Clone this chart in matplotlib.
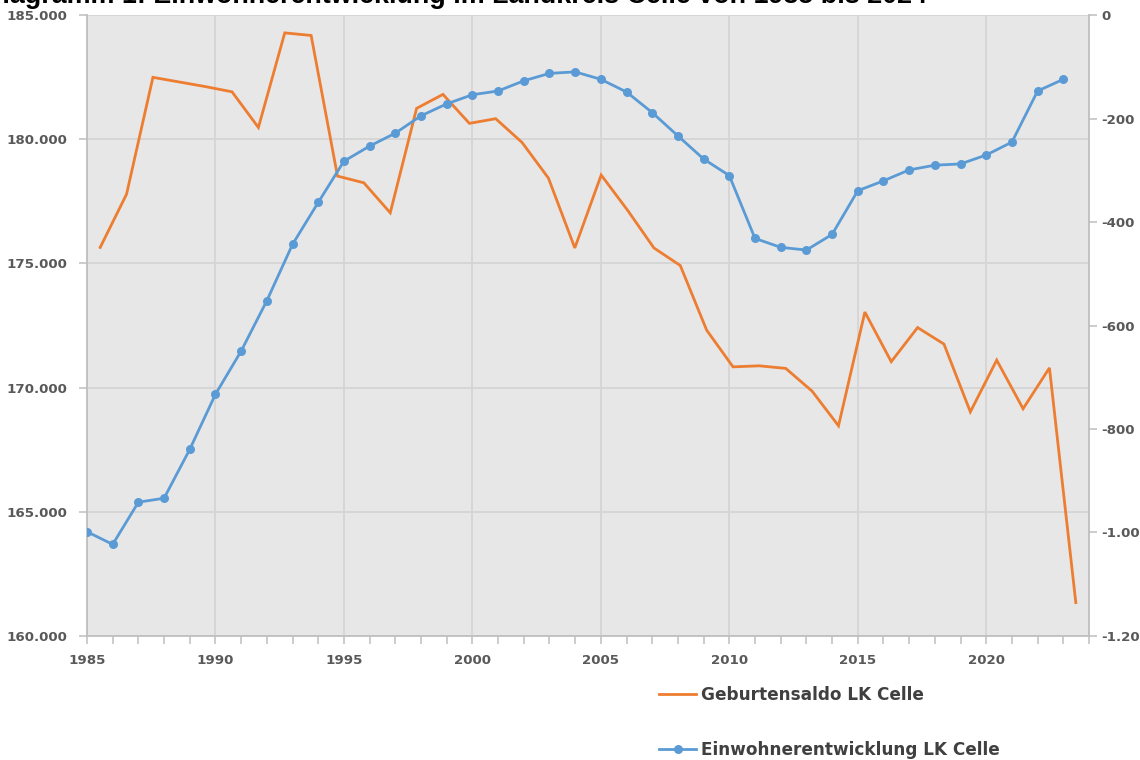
import matplotlib
matplotlib.use("Agg")
import matplotlib.pyplot as plt
from matplotlib.ticker import FuncFormatter, MultipleLocator, FixedLocator
from matplotlib.lines import Line2D

# ---- data ----
years = list(range(1985, 2024))
einwohner = [164190, 163680, 165380, 165540, 167510, 169730, 171470, 173500,
             175770, 177460, 179120, 179730, 180250, 180950, 181430, 181800,
             181950, 182360, 182660, 182720, 182420, 181910, 181080, 180140,
             179210, 178540, 176010, 175650, 175540, 176170, 177930, 178330,
             178770, 178960, 179010, 179370, 179890, 181950, 182420]

saldo_kategorien = [str(y) for y in range(1986, 2024)]
geburtensaldo = [-449, -346, -120, -129, -138, -148, -217, -34, -39, -311,
                 -324, -382, -180, -153, -209, -200, -246, -315, -450, -309,
                 -377, -450, -484, -609, -680, -678, -683, -727, -794, -574,
                 -670, -604, -636, -767, -667, -761, -682, -1136]

left_ticks = [160000, 165000, 170000, 175000, 180000, 185000]
right_ticks = [0, -200, -400, -600, -800, -1000, -1200]
x_major = [1985, 1990, 1995, 2000, 2005, 2010, 2015, 2020]

title = "Diagramm 1: Einwohnerentwicklung im Landkreis Celle von 1985 bis 2024"
label_saldo = "Geburtensaldo LK Celle"
label_einw = "Einwohnerentwicklung LK Celle"

# ---- style ----
ORANGE = "#ED7D31"
BLUE = "#5B9BD5"
BG = "#E7E7E7"
GRID = "#D5D5D5"
SPINE = "#BFBFBF"
TICKTXT = "#595959"

def de_fmt(v, pos=None):
    return f"{int(round(v)):,}".replace(",", ".")

fig = plt.figure(figsize=(11.4, 7.6), dpi=100)
W, H = 1140, 760
l, r, t, b = 87, 1089, 15.3, 635.7
rect = [l / W, 1 - b / H, (r - l) / W, (b - t) / H]

ax = fig.add_axes(rect)
ax.set_facecolor(BG)
ax.set_xlim(1985, 2024)
ax.set_ylim(160000, 185000)
ax.xaxis.set_major_locator(FixedLocator(x_major))
ax.xaxis.set_minor_locator(MultipleLocator(1))
ax.yaxis.set_major_locator(FixedLocator(left_ticks))
ax.yaxis.set_major_formatter(FuncFormatter(de_fmt))
ax.grid(True, which="major", color=GRID, linewidth=1.3)
ax.set_axisbelow(True)
for s in ["top", "right"]:
    ax.spines[s].set_visible(False)
for s in ["left", "bottom"]:
    ax.spines[s].set_color(SPINE)
    ax.spines[s].set_linewidth(1.3)
ax.tick_params(axis="both", which="both", direction="out", color=SPINE,
               width=1.1, length=6, labelcolor=TICKTXT)
ax.tick_params(axis="y", pad=8)
ax.tick_params(axis="x", which="major", pad=7)
for lab in ax.get_xticklabels() + ax.get_yticklabels():
    lab.set_fontfamily("DejaVu Sans")
    lab.set_fontweight("bold")
    lab.set_fontsize(9.6)

# right axis
ax_r = ax.twinx()
ax_r.set_ylim(-1200, 0)
ax_r.yaxis.set_major_locator(FixedLocator(right_ticks))
ax_r.yaxis.set_major_formatter(FuncFormatter(de_fmt))
for s in ["top", "left", "bottom"]:
    ax_r.spines[s].set_visible(False)
ax_r.spines["right"].set_color(SPINE)
ax_r.spines["right"].set_linewidth(1.3)
ax_r.tick_params(axis="y", direction="out", color=SPINE, width=1.1, length=6,
                 labelcolor=TICKTXT, pad=3)
for lab in ax_r.get_yticklabels():
    lab.set_fontfamily("DejaVu Sans")
    lab.set_fontweight("bold")
    lab.set_fontsize(9.6)

# orange series on category axis (hidden), right y scale
ax_o = ax_r.twiny()
ax_o.set_xlim(-0.5, len(saldo_kategorien) - 0.5)
ax_o.set_xticks([])
for s in ax_o.spines.values():
    s.set_visible(False)
ax_o.tick_params(axis="x", which="both", top=False, labeltop=False)
line_o, = ax_o.plot(range(len(saldo_kategorien)), geburtensaldo, color=ORANGE,
                    linewidth=2.0, solid_joinstyle="miter")

# blue series on top, left y scale
ax_b = ax.twiny()
ax_b.set_xlim(1985, 2024)
ax_b.set_xticks([])
for s in ax_b.spines.values():
    s.set_visible(False)
ax_b.tick_params(axis="x", which="both", top=False, labeltop=False)
line_b, = ax_b.plot(years, einwohner, color=BLUE, linewidth=2.0,
                    marker="o", markersize=6.5, markeredgewidth=0)

# title (mostly cut off at the top edge, as in the reference)
fig.text(-17 / W, 1 - 3 / H, title, fontsize=19.4, fontweight="bold",
         family="Liberation Sans", color="black", va="baseline", ha="left")

# legends
leg_kw = dict(frameon=False, handlelength=2.2, handletextpad=0.3,
              borderpad=0, borderaxespad=0,
              prop={"family": "DejaVu Sans", "weight": "bold", "size": 12.2})
leg1 = fig.legend([Line2D([], [], color=ORANGE, linewidth=2.0)], [label_saldo],
                  loc="center left", bbox_to_anchor=(659 / W, 1 - 695 / H), **leg_kw)
leg2 = fig.legend([Line2D([], [], color=BLUE, linewidth=2.0, marker="o",
                          markersize=6.5, markeredgewidth=0)], [label_einw],
                  loc="center left", bbox_to_anchor=(659 / W, 1 - 750 / H), **leg_kw)
for lg in (leg1, leg2):
    for txt in lg.get_texts():
        txt.set_color("#404040")

fig.savefig("out.png", dpi=100, facecolor="white")
